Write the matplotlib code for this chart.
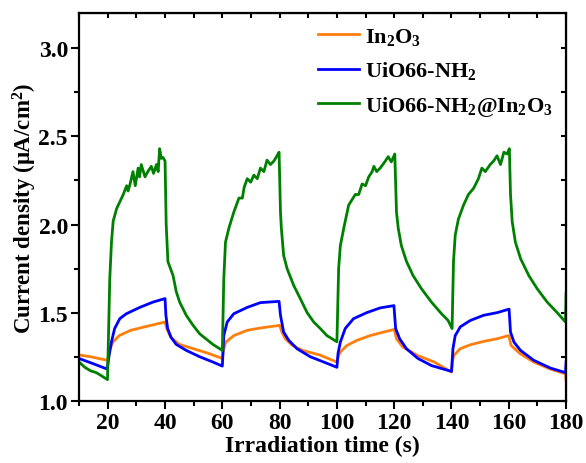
import matplotlib
matplotlib.use("Agg")
import matplotlib.pyplot as plt
from matplotlib.ticker import MultipleLocator

plt.rcParams['font.family'] = ['Liberation Serif', 'DejaVu Serif']
plt.rcParams['font.weight'] = 'bold'
plt.rcParams['mathtext.fontset'] = 'custom'
plt.rcParams['mathtext.rm'] = 'Liberation Serif:bold'
plt.rcParams['mathtext.bf'] = 'Liberation Serif:bold'
plt.rcParams['mathtext.it'] = 'Liberation Serif:bold:italic'

# photocurrent response, light on/off every 20 s
t_in2o3 = [10, 14, 19.8, 20.2, 20.8, 21.8, 24, 28, 33, 40,
           40.6, 42, 45, 50, 55, 60,
           60.4, 61.2, 64, 68.7, 73.3, 80,
           80.8, 82, 84.5, 88, 94, 100,
           100.4, 101.2, 103.5, 107, 111.6, 116.3, 120,
           120.8, 123, 128, 134, 140,
           140.3, 140.8, 143, 146.6, 151.2, 155.9, 160,
           160.8, 164, 168.7, 174.5, 179.8, 180]
j_in2o3 = [1.26, 1.25, 1.23, 1.25, 1.295, 1.333, 1.37, 1.40, 1.42, 1.447,
           1.41, 1.36, 1.32, 1.295, 1.27, 1.24,
           1.29, 1.333, 1.37, 1.40, 1.413, 1.428,
           1.39, 1.352, 1.314, 1.286, 1.26, 1.22,
           1.25, 1.277, 1.314, 1.343, 1.37, 1.39, 1.405,
           1.352, 1.305, 1.258, 1.22, 1.163,
           1.22, 1.257, 1.295, 1.318, 1.337, 1.352, 1.37,
           1.314, 1.267, 1.22, 1.18, 1.153, 1.115]

t_uio = [10, 15, 19.8, 20.5, 21.3, 22.4, 24.2, 26.5, 31.2, 35.8, 40,
         40.3, 40.9, 42.1, 43.9, 47.4, 52.1, 56.7, 60,
         60.5, 61.7, 64, 68.7, 73.3, 79.8,
         80.3, 81.4, 83.2, 86.1, 90.7, 95.4, 100,
         100.4, 101.2, 102.9, 105.8, 110.4, 115.1, 119.9,
         120.5, 121.9, 124.3, 128.3, 133, 137.6, 140,
         140.5, 141.3, 143.1, 146.6, 151.2, 155.9, 160.1,
         160.6, 161.8, 164.1, 168.7, 174.5, 179.8, 180]
j_uio = [1.24, 1.21, 1.18, 1.26, 1.335, 1.41, 1.466, 1.494, 1.53, 1.56, 1.58,
         1.485, 1.41, 1.36, 1.32, 1.286, 1.25, 1.22, 1.197,
         1.37, 1.447, 1.494, 1.53, 1.557, 1.564,
         1.485, 1.39, 1.343, 1.295, 1.25, 1.22, 1.19,
         1.27, 1.333, 1.41, 1.466, 1.50, 1.527, 1.54,
         1.41, 1.352, 1.295, 1.24, 1.20, 1.178, 1.167,
         1.295, 1.37, 1.42, 1.456, 1.485, 1.50, 1.52,
         1.39, 1.333, 1.286, 1.23, 1.186, 1.16, 1.22]

t_comp = [10, 12, 14, 16, 18, 19.9, 20.3, 20.7, 21.3, 21.9, 23.1, 25.4, 26.6,
          27.1, 27.8, 28.8, 29.6, 30.6, 31.1, 31.7, 33, 34, 35.2, 36,
          37, 37.6, 38.1, 38.7, 39.3, 40,
          40.4, 41, 42.8, 43.9, 45.1, 47.4, 49.7, 52.1, 54.4, 56.7, 60,
          60.5, 61.1, 62.3, 64, 65.8, 67, 67.6, 68.7, 69.9, 71, 72.2,
          73.3, 74.5, 75.6, 76.8, 78, 79.1, 79.8,
          80.3, 80.6, 81.4, 82.6, 84.9, 87.2, 89.6, 91.9, 94.2, 96.5, 100,
          100.6, 101.2, 102.4, 104.1, 106.4, 107.6, 108.8, 110, 111.1,
          112.3, 112.9, 113.9, 115.1, 116.7, 117.9, 119, 120.2,
          120.8, 121.4, 122.5, 124.3, 126.6, 129.5, 133, 136.5, 138.8, 140.2,
          140.7, 141.3, 142.4, 144.2, 145.9, 147.7, 149.4, 150.6, 151.8,
          153.5, 154.7, 155.9, 157.1, 158.3, 159.4, 160.2,
          160.6, 161.2, 162.3, 164.1, 167, 169.9, 173.4, 176.9, 179.8, 180]
j_comp = [1.22, 1.19, 1.17, 1.16, 1.14, 1.12, 1.40, 1.69, 1.90, 2.02, 2.09, 2.17, 2.22,
          2.19, 2.23, 2.30, 2.22, 2.32, 2.27, 2.34, 2.27, 2.30, 2.33, 2.29,
          2.34, 2.30, 2.43, 2.375, 2.38, 2.36,
          2.00, 1.79, 1.71, 1.62, 1.56, 1.485, 1.43, 1.38, 1.35, 1.32, 1.286,
          1.69, 1.90, 1.98, 2.07, 2.15, 2.15, 2.21, 2.26, 2.24, 2.28, 2.26,
          2.32, 2.30, 2.365, 2.34, 2.36, 2.39, 2.41,
          2.07, 1.98, 1.825, 1.75, 1.655, 1.58, 1.50, 1.447, 1.41, 1.37, 1.335,
          1.75, 1.88, 1.98, 2.11, 2.17, 2.17, 2.23, 2.22, 2.27,
          2.30, 2.33, 2.30, 2.32, 2.355, 2.385, 2.355, 2.40,
          2.07, 1.98, 1.88, 1.79, 1.71, 1.636, 1.56, 1.494, 1.456, 1.41,
          1.79, 1.94, 2.03, 2.11, 2.17, 2.205, 2.26, 2.32, 2.30,
          2.34, 2.36, 2.39, 2.34, 2.41, 2.40, 2.43,
          2.17, 2.015, 1.90, 1.807, 1.71, 1.636, 1.56, 1.50, 1.447, 1.61]

labels = ['In$_2$O$_3$', 'UiO66-NH$_2$', 'UiO66-NH$_2$@In$_2$O$_3$']
colors = ['#ff7f0e', '#0000ff', '#008000']

fig = plt.figure(figsize=(5.86, 4.64), dpi=100)
ax = fig.add_axes([0.135, 0.134, 0.831, 0.836])

ax.plot(t_in2o3, j_in2o3, color=colors[0], lw=2.0, label=labels[0])
ax.plot(t_uio, j_uio, color=colors[1], lw=2.0, label=labels[1])
ax.plot(t_comp, j_comp, color=colors[2], lw=2.0, label=labels[2])

ax.set_xlim(10, 180)
ax.set_ylim(1.0, 3.2)
ax.xaxis.set_major_locator(MultipleLocator(20))
ax.xaxis.set_minor_locator(MultipleLocator(10))
ax.yaxis.set_major_locator(MultipleLocator(0.5))
ax.yaxis.set_minor_locator(MultipleLocator(0.25))
ax.yaxis.set_major_formatter(plt.FormatStrFormatter('%.1f'))

ax.tick_params(which='major', direction='out', length=6, width=1.5, labelsize=17, pad=2)
ax.tick_params(which='minor', direction='out', length=3.5, width=1.5)
for s in ax.spines.values():
    s.set_linewidth(1.6)

# inward ticks on the opposite sides
top = ax.secondary_xaxis('top')
top.xaxis.set_major_locator(MultipleLocator(20))
top.xaxis.set_minor_locator(MultipleLocator(10))
top.tick_params(which='both', direction='in', length=3.5, width=1.5, labeltop=False)
right = ax.secondary_yaxis('right')
right.yaxis.set_major_locator(MultipleLocator(0.5))
right.yaxis.set_minor_locator(MultipleLocator(0.25))
right.tick_params(which='both', direction='in', length=3.5, width=1.5, labelright=False)

ax.set_xlabel('Irradiation time (s)', fontsize=17, fontweight='bold')
ax.set_ylabel('Current density (μA/cm$^2$)', fontsize=16.5, fontweight='bold')
ax.xaxis.set_label_coords(0.5, -0.088)
ax.yaxis.set_label_coords(-0.083, 0.5)

leg = ax.legend(loc='upper right', frameon=False, fontsize=16, handlelength=1.85,
                handletextpad=0.25, labelspacing=0.55, borderaxespad=0.2,
                bbox_to_anchor=(1.0, 1.0))
for line in leg.get_lines():
    line.set_linewidth(2.0)

fig.savefig('out.png', dpi=100)
